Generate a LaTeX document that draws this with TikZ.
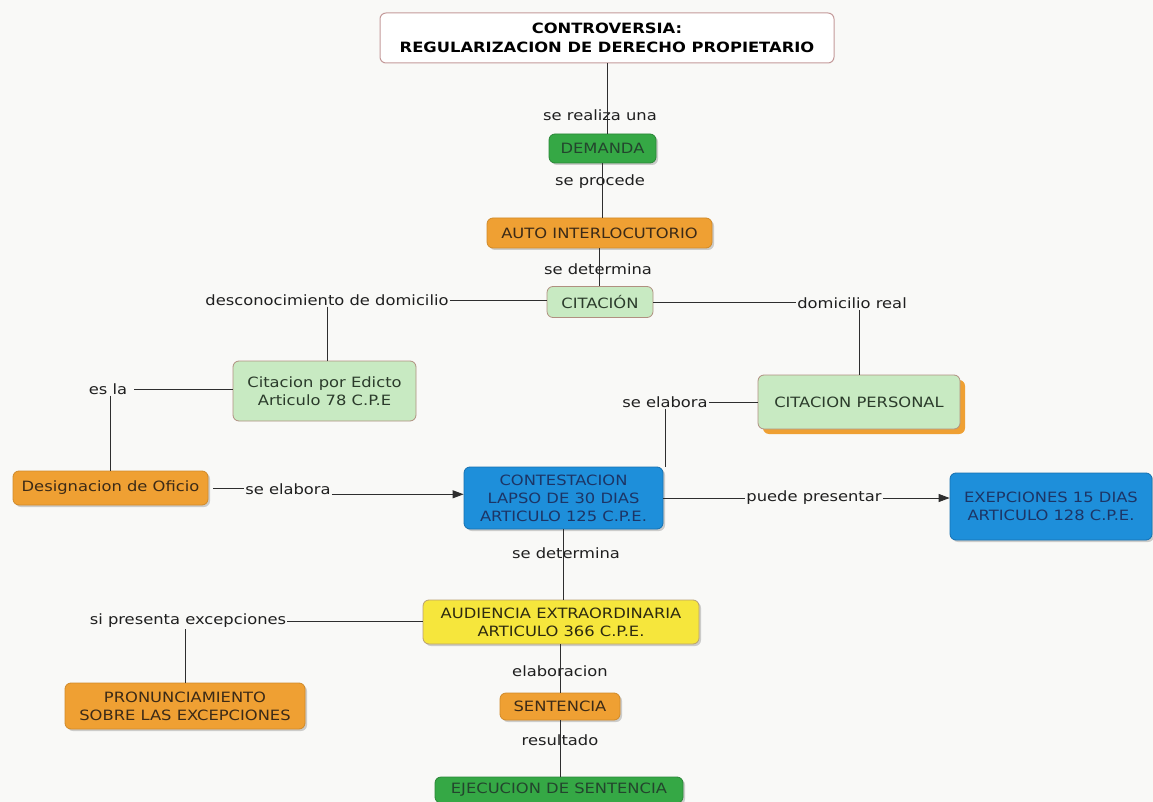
\documentclass[tikz,border=0pt]{standalone}
\usepackage{fontspec}
\setmainfont[FakeStretch=1.15]{DejaVu Sans}
\usetikzlibrary{arrows.meta,shadows}
\definecolor{paper}{HTML}{F9F9F7}
\definecolor{lnc}{HTML}{2E2E2E}
\definecolor{grn}{HTML}{35A845}
\definecolor{grnd}{HTML}{23452D}
\definecolor{org}{HTML}{EFA033}
\definecolor{orgb}{HTML}{D08A2A}
\definecolor{orgt}{HTML}{3B2A17}
\definecolor{lgr}{HTML}{C8EAC2}
\definecolor{lgrb}{HTML}{B09080}
\definecolor{lgrt}{HTML}{2B3B2B}
\definecolor{blu}{HTML}{1E8FDA}
\definecolor{blub}{HTML}{1670B0}
\definecolor{blut}{HTML}{1C3566}
\definecolor{yel}{HTML}{F6E63C}
\definecolor{yelb}{HTML}{B8A070}
\definecolor{yelt}{HTML}{2D2A10}
\definecolor{titb}{HTML}{C49A9A}
\begin{document}
\begin{tikzpicture}[x=1pt,y=-1pt,
  font=\fontsize{14.2}{18}\selectfont,
  box/.style={rounded corners=6pt, inner sep=0pt, align=center, line width=0.8pt},
  shd/.style={drop shadow={shadow xshift=2pt, shadow yshift=-2pt, fill=black, opacity=0.18}},
  greenbox/.style={box, shd, fill=grn, draw=grn!80!black, text=grnd},
  orangebox/.style={box, shd, fill=org, draw=orgb, text=orgt},
  lightbox/.style={box, fill=lgr, draw=lgrb, text=lgrt},
  bluebox/.style={box, shd, fill=blu, draw=blub, text=blut},
  yellowbox/.style={box, shd, fill=yel, draw=yelb, text=yelt},
  titlebox/.style={box, fill=white, draw=titb, line width=1pt, text=black, font=\fontsize{14.2}{19}\selectfont\bfseries},
  lbl/.style={inner sep=1pt, text=black!88},
  conn/.style={draw=lnc, line width=0.9pt},
  arr/.style={conn, -{Triangle[length=11pt,width=8pt]}}
]
\useasboundingbox (0,0) rectangle (1153,802);
\fill[paper] (0,0) rectangle (1153,802);

% nodes
\node[titlebox, minimum width=454pt, minimum height=50pt] (title) at (607,38) {CONTROVERSIA:\\REGULARIZACION DE DERECHO PROPIETARIO};
\node[greenbox, minimum width=107pt, minimum height=29pt] (demanda) at (602.5,148.5) {DEMANDA};
\node[orangebox, minimum width=225pt, minimum height=30pt] (auto) at (599.5,233) {AUTO INTERLOCUTORIO};
\node[lightbox, minimum width=106pt, minimum height=31pt] (citacion) at (600,302) {CITACIÓN};
\node[lightbox, minimum width=183pt, minimum height=60pt] (edicto) at (324.5,391) {Citacion por Edicto\\Articulo 78 C.P.E};
\node[lightbox, drop shadow={shadow xshift=5pt, shadow yshift=-5pt, fill=org, opacity=1}, minimum width=202pt, minimum height=54pt] (cpers) at (859,402) {CITACION PERSONAL};
\node[orangebox, minimum width=195pt, minimum height=34pt] (desig) at (110.5,488) {Designacion de Oficio};
\node[bluebox, minimum width=199pt, minimum height=62pt] (cont) at (563.5,498) {CONTESTACION\\LAPSO DE 30 DIAS\\ARTICULO 125 C.P.E.};
\node[bluebox, minimum width=202pt, minimum height=67pt] (exep) at (1051,506.5) {EXEPCIONES 15 DIAS\\ARTICULO 128 C.P.E.};
\node[yellowbox, minimum width=276pt, minimum height=44pt] (aud) at (561,622) {AUDIENCIA EXTRAORDINARIA\\ARTICULO 366 C.P.E.};
\node[orangebox, minimum width=240pt, minimum height=46pt] (pron) at (185,706) {PRONUNCIAMIENTO\\SOBRE LAS EXCEPCIONES};
\node[orangebox, minimum width=120pt, minimum height=27pt] (sent) at (560,706.5) {SENTENCIA};
\node[greenbox, minimum width=248pt, minimum height=26pt] (ejec) at (559,790) {EJECUCION DE SENTENCIA};

% labels
\node[lbl] (l1) at (600,115) {se realiza una};
\node[lbl] (l2) at (600,182) {se procede};
\node[lbl] (l3) at (598,269) {se determina};
\node[lbl] (ldesc) at (327,300) {desconocimiento de domicilio};
\node[lbl] (ldom) at (852,303) {domicilio real};
\node[lbl] (lesla) at (108,389) {es la};
\node[lbl] (lelab2) at (665,402) {se elabora};
\node[lbl] (lelab1) at (288,489) {se elabora};
\node[lbl] (lpuede) at (814,498) {puede presentar};
\node[lbl] (ldet2) at (566,553) {se determina};
\node[lbl] (lsi) at (188,621) {si presenta excepciones};
\node[lbl] (lelabo) at (560,671) {elaboracion};
\node[lbl] (lres) at (560,740) {resultado};

% connectors
\draw[conn] (title.south) -- (title.south |- demanda.north);
\draw[conn] (demanda.south) -- (demanda.south |- auto.north);
\draw[conn] (auto.south) -- (auto.south |- citacion.north);
\draw[conn] (ldesc.east) -- (ldesc.east -| citacion.west);
\draw[conn] (ldesc.south) -- (ldesc.south |- edicto.north);
\draw[conn] (citacion.east) -- (citacion.east -| ldom.west);
\draw[conn] (ldom.south -| cpers.north) -- (cpers.north);
\draw[conn, shorten <=6pt] (lesla.east) -- (lesla.east -| edicto.west);
\draw[conn] (lesla.south -| desig.north) -- (desig.north);
\draw[conn] (lelab2.east) -- (lelab2.east -| cpers.west);
\draw[conn] (lelab2.south) -- (lelab2.south |- cont.north);
\draw[conn, shorten <=5pt] (desig.east) -- (desig.east -| lelab1.west);
\draw[arr] (lelab1.base east) -- (lelab1.base east -| cont.west);
\draw[conn] (cont.east |- lpuede.west) -- (lpuede.west);
\draw[arr] (lpuede.east) -- (lpuede.east -| exep.west);
\draw[conn] (cont.south) -- (cont.south |- aud.north);
\draw[conn] (lsi.east) -- (lsi.east -| aud.west);
\draw[conn] (lsi.south -| pron.north) -- (pron.north);
\draw[conn] (aud.south -| sent.north) -- (sent.north);
\draw[conn] (sent.south) -- (sent.south |- ejec.north);
\end{tikzpicture}
\end{document}
